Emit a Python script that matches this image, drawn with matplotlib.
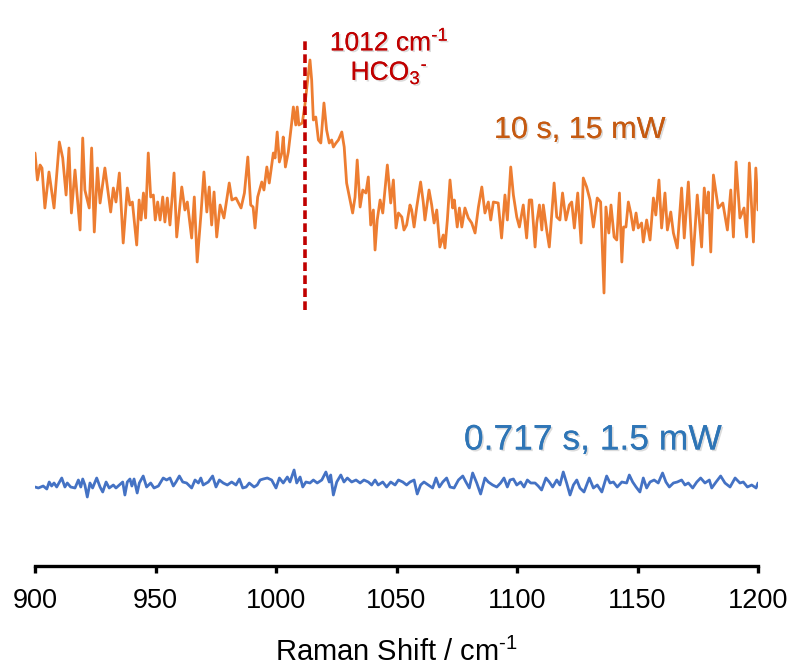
import matplotlib
matplotlib.use("Agg")
import matplotlib.pyplot as plt
import matplotlib.patheffects as pe

plt.rcParams['font.family'] = ['Liberation Sans', 'DejaVu Sans']
plt.rcParams['mathtext.fontset'] = 'custom'
plt.rcParams['mathtext.rm'] = 'Liberation Sans'
plt.rcParams['mathtext.it'] = 'Liberation Sans:italic'

# 10 s, 15 mW spectrum (Raman shift in cm-1, intensity in a.u.)
shift_long = [
    900.0, 901.0, 902.1, 902.9, 904.1, 905.8, 907.9, 910.1, 911.5, 912.9,
    914.1, 915.1, 916.6, 918.7, 919.8, 920.7, 922.5, 923.5, 924.6, 925.9,
    927.0, 929.0, 931.4, 932.5, 933.6, 935.0, 936.6, 938.3, 939.4, 940.4,
    942.2, 943.2, 944.0, 945.0, 945.9, 947.0, 948.0, 949.1, 949.9, 950.9,
    951.9, 953.0, 953.9, 954.9, 956.0, 957.7, 958.8, 960.9, 962.2, 963.2,
    965.0, 966.1, 967.3, 968.9, 970.1, 971.3, 972.3, 973.3, 974.3, 975.4,
    976.8, 978.4, 980.6, 981.7, 983.4, 985.5, 986.9, 988.3, 989.5, 990.5,
    991.3, 992.4, 994.1, 995.0, 996.2, 997.2, 998.9, 999.6, 1000.5, 1001.4,
    1002.4, 1003.0, 1003.9, 1005.1, 1006.5, 1007.2, 1008.2, 1008.8, 1009.5, 1010.9,
    1012.0, 1013.0, 1014.1, 1014.8, 1015.5, 1016.5, 1017.6, 1018.6, 1019.9, 1021.0,
    1022.1, 1023.1, 1023.8, 1024.9, 1025.9, 1027.3, 1028.3, 1029.3, 1030.7, 1031.8,
    1032.8, 1033.7, 1034.9, 1036.0, 1037.3, 1038.3, 1039.3, 1040.4, 1041.1, 1042.0,
    1043.2, 1044.3, 1046.2, 1047.6, 1048.7, 1049.8, 1050.8, 1052.2, 1053.1, 1054.2,
    1055.6, 1056.3, 1057.3, 1058.4, 1060.0, 1061.1, 1061.8, 1063.5, 1064.6, 1065.6,
    1066.7, 1068.0, 1069.4, 1070.1, 1071.1, 1072.2, 1073.3, 1074.0, 1075.2, 1076.1,
    1077.1, 1078.4, 1079.8, 1081.2, 1082.6, 1084.0, 1085.4, 1086.7, 1088.1, 1089.1,
    1090.2, 1092.2, 1093.6, 1095.0, 1096.0, 1097.4, 1098.5, 1099.9, 1101.0, 1102.6,
    1104.0, 1105.1, 1106.1, 1107.5, 1108.2, 1109.3, 1110.3, 1110.9, 1112.3, 1113.4,
    1115.4, 1116.5, 1117.8, 1118.9, 1120.3, 1121.7, 1122.7, 1123.8, 1125.2, 1126.6,
    1127.5, 1128.9, 1130.3, 1131.7, 1133.3, 1134.7, 1136.1, 1136.9, 1138.1, 1139.0,
    1140.3, 1141.4, 1142.5, 1143.5, 1144.2, 1145.2, 1146.2, 1147.2, 1148.3, 1149.4,
    1150.3, 1151.7, 1152.4, 1153.8, 1155.2, 1156.6, 1157.6, 1158.9, 1160.0, 1161.4,
    1162.4, 1163.8, 1164.9, 1166.5, 1168.3, 1169.4, 1171.1, 1172.9, 1174.8, 1176.6,
    1177.7, 1178.7, 1179.4, 1180.4, 1181.5, 1183.5, 1185.4, 1187.3, 1188.7, 1189.8,
    1190.9, 1192.5, 1194.2, 1195.3, 1196.4, 1198.1, 1199.1, 1200.0,
]
counts_long = [
    447, 420, 435, 432, 392, 428, 392, 458, 442, 405,
    452, 387, 430, 370, 462, 410, 392, 452, 368, 432,
    397, 432, 388, 412, 398, 427, 357, 412, 395, 398,
    355, 400, 380, 407, 382, 447, 403, 405, 380, 398,
    380, 403, 378, 402, 375, 427, 363, 413, 390, 398,
    362, 403, 338, 387, 428, 388, 413, 375, 408, 363,
    395, 382, 417, 400, 402, 392, 407, 443, 395, 393,
    372, 403, 418, 410, 433, 417, 447, 442, 468, 438,
    447, 463, 433, 448, 477, 493, 475, 493, 475, 477,
    495, 517, 540, 520, 480, 483, 460, 457, 497, 470,
    457, 460, 453, 457, 460, 468, 453, 417, 400, 387,
    403, 440, 393, 410, 407, 423, 375, 390, 350, 380,
    400, 387, 435, 397, 420, 372, 387, 383, 370, 375,
    395, 390, 373, 393, 418, 398, 380, 410, 395, 377,
    390, 353, 365, 352, 380, 420, 392, 400, 373, 392,
    373, 392, 382, 377, 367, 393, 413, 387, 398, 380,
    398, 397, 362, 405, 380, 433, 405, 383, 373, 395,
    362, 400, 400, 353, 377, 395, 370, 395, 370, 353,
    417, 383, 380, 407, 380, 395, 398, 372, 407, 357,
    422, 413, 400, 373, 402, 398, 307, 393, 367, 395,
    363, 360, 407, 338, 373, 373, 398, 387, 370, 387,
    372, 377, 358, 380, 360, 402, 385, 420, 372, 407,
    370, 388, 367, 352, 412, 362, 418, 335, 405, 353,
    412, 387, 408, 348, 425, 392, 397, 370, 410, 363,
    438, 382, 392, 363, 437, 358, 432, 390,
]

# 0.717 s, 1.5 mW spectrum
shift_short = [
    900.0, 901.4, 903.4, 904.9, 905.9, 906.9, 907.9, 909.0, 911.1, 912.4,
    913.4, 914.8, 916.6, 918.0, 919.0, 919.8, 920.7, 921.7, 922.8, 923.9,
    925.6, 927.0, 928.1, 929.5, 930.8, 932.5, 933.6, 935.0, 936.4, 937.3,
    938.3, 939.4, 940.2, 941.1, 942.4, 943.3, 944.9, 946.3, 948.0, 949.4,
    951.2, 953.2, 954.6, 956.0, 957.4, 958.5, 959.9, 961.3, 962.9, 965.0,
    966.4, 967.8, 968.8, 969.8, 971.9, 973.7, 975.1, 976.5, 978.1, 979.8,
    981.6, 983.4, 984.8, 986.2, 987.6, 988.9, 990.9, 992.2, 993.4, 994.7,
    996.4, 998.2, 1000.0, 1001.4, 1003.0, 1004.7, 1005.8, 1007.5, 1008.6, 1010.0,
    1011.1, 1012.4, 1014.1, 1015.5, 1017.1, 1019.0, 1020.7, 1022.1, 1022.7, 1023.8,
    1025.2, 1026.9, 1028.2, 1029.6, 1031.4, 1033.2, 1034.9, 1036.5, 1038.3, 1039.7,
    1041.1, 1042.4, 1044.3, 1045.9, 1047.6, 1049.4, 1050.8, 1052.6, 1054.2, 1055.6,
    1057.3, 1058.6, 1060.0, 1061.4, 1063.2, 1065.0, 1066.4, 1067.8, 1069.2, 1070.8,
    1072.2, 1073.9, 1075.7, 1077.5, 1078.8, 1080.2, 1081.6, 1083.3, 1084.9, 1086.7,
    1088.1, 1089.9, 1091.6, 1093.2, 1094.6, 1096.0, 1097.1, 1098.5, 1099.9, 1101.5,
    1102.9, 1104.3, 1105.7, 1107.5, 1108.8, 1110.2, 1112.0, 1113.4, 1114.8, 1116.5,
    1117.8, 1119.2, 1120.6, 1122.0, 1123.4, 1124.8, 1126.1, 1127.8, 1130.0, 1131.7,
    1133.3, 1135.2, 1137.2, 1138.6, 1140.0, 1141.6, 1143.5, 1145.5, 1146.6, 1148.0,
    1149.4, 1151.0, 1152.4, 1153.8, 1155.2, 1156.9, 1158.6, 1160.4, 1161.8, 1163.2,
    1164.9, 1166.5, 1168.3, 1169.7, 1171.1, 1172.9, 1174.6, 1176.2, 1178.0, 1179.8,
    1180.8, 1182.6, 1184.5, 1186.3, 1188.4, 1190.5, 1192.5, 1193.9, 1195.6, 1197.4,
    1199.2, 1200.0,
]
counts_short = [
    113, 112, 114, 111, 118, 114, 117, 113, 122, 113,
    117, 113, 112, 120, 113, 121, 115, 103, 117, 112,
    122, 113, 108, 118, 112, 115, 112, 115, 118, 105,
    118, 121, 114, 121, 107, 117, 124, 113, 117, 112,
    114, 122, 120, 122, 114, 118, 124, 118, 117, 112,
    120, 117, 122, 115, 118, 124, 113, 120, 117, 115,
    118, 115, 121, 112, 113, 117, 113, 115, 120, 121,
    122, 120, 112, 122, 117, 123, 118, 130, 117, 123,
    113, 118, 117, 120, 117, 120, 128, 118, 125, 105,
    118, 125, 118, 122, 118, 120, 117, 120, 118, 115,
    120, 115, 118, 113, 118, 115, 120, 118, 115, 118,
    120, 106, 115, 118, 115, 112, 122, 113, 118, 122,
    113, 112, 120, 124, 118, 112, 127, 117, 106, 122,
    118, 115, 113, 117, 122, 113, 120, 121, 115, 118,
    113, 120, 117, 117, 114, 110, 122, 118, 113, 120,
    115, 128, 117, 105, 115, 120, 112, 108, 122, 112,
    115, 108, 124, 117, 118, 113, 118, 117, 125, 118,
    113, 108, 122, 112, 118, 120, 117, 127, 118, 113,
    117, 118, 120, 115, 117, 112, 118, 122, 117, 120,
    112, 118, 124, 117, 113, 122, 117, 118, 113, 115,
    112, 117,
]

peak_position = 1012
x_ticks = [900, 950, 1000, 1050, 1100, 1150, 1200]

orange = '#ED7D31'
blue = '#4472C4'
red = '#C00000'

fig = plt.figure(figsize=(7.92, 6.66), dpi=100)
ax = fig.add_axes([35 / 792, 100 / 666, 723 / 792, 566 / 666])

ax.plot(shift_long, counts_long, color=orange, lw=2.0,
        solid_joinstyle='round', solid_capstyle='round')
ax.plot(shift_short, counts_short, color=blue, lw=2.0,
        solid_joinstyle='round', solid_capstyle='round')

# marker for the bicarbonate band
ax.plot([peak_position, peak_position], [290, 560], color=red, lw=2.6,
        dashes=(2.4, 1.2))

shadow = [pe.withSimplePatchShadow(offset=(1.2, -1.2), shadow_rgbFace='#999999',
                                    alpha=0.35), pe.Normal()]

ax.text(1047, 558, r'1012 cm$^{\text{-1}}$', color=red, fontsize=19,
        ha='center', va='center', path_effects=shadow)
ax.text(1047, 527, r'HCO$_{\mathregular{3}}$$^{\text{-}}$', color=red,
        fontsize=19, ha='center', va='center', path_effects=shadow)
ax.text(1126, 470, '10 s, 15 mW', color='#C55A11', fontsize=22,
        ha='center', va='center', path_effects=shadow)
ax.text(1131.5, 160, '0.717 s, 1.5 mW', color='#2E75B6', fontsize=25.5,
        ha='center', va='center', path_effects=shadow)

ax.set_xlim(900, 1200)
ax.set_ylim(34, 600)
ax.set_xticks(x_ticks)
ax.set_yticks([])
for side in ['left', 'right', 'top']:
    ax.spines[side].set_visible(False)
ax.spines['bottom'].set_linewidth(2.4)
ax.tick_params(axis='x', direction='out', length=5, width=2.4, pad=11,
               labelsize=19.5)
ax.set_xlabel(r'Raman Shift / cm$^{\text{-1}}$', fontsize=21, labelpad=17)
ax.patch.set_alpha(0)

fig.savefig('out.png', dpi=100)
